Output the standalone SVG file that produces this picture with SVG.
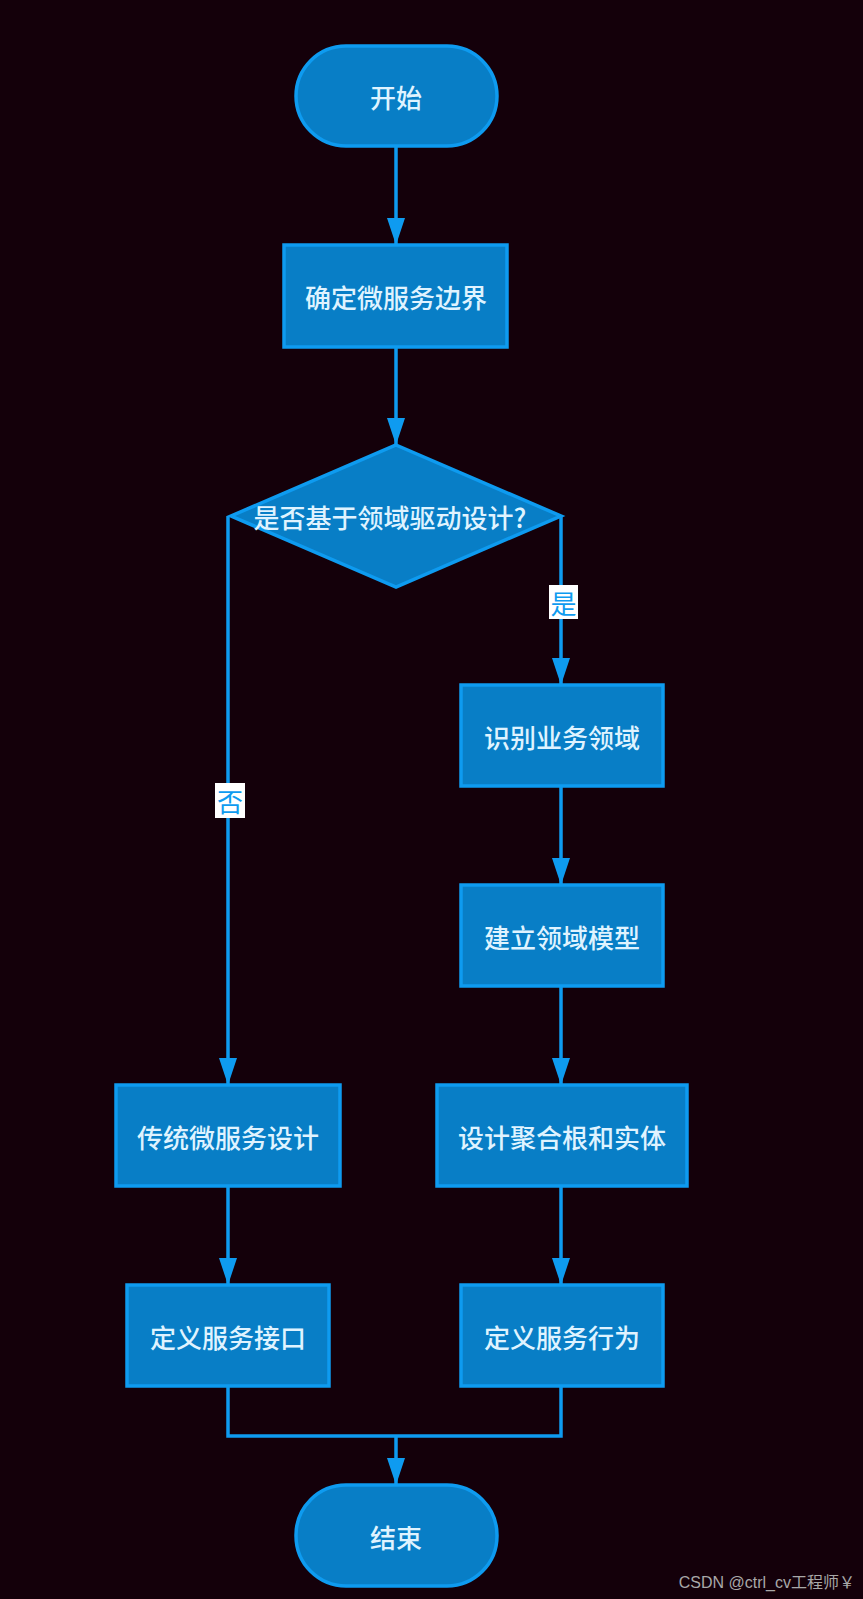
<svg xmlns="http://www.w3.org/2000/svg" width="863" height="1599" viewBox="0 0 863 1599">
<defs>
<style>
.n{fill:#087ec6;stroke:#0e9bf0;stroke-width:3.5}
.t{font-family:"Noto Sans CJK SC","Liberation Sans",sans-serif;font-size:26px;font-weight:500;fill:#dff3ff;text-anchor:middle;dominant-baseline:central}
.e{fill:none;stroke:#0e9bf0;stroke-width:3.5}
.lb{fill:#ffffff}
.lt{font-family:"Noto Sans CJK SC","Liberation Sans",sans-serif;font-size:26px;fill:#0e9bf0;text-anchor:middle;dominant-baseline:central}
</style>
<marker id="a" viewBox="0 0 27 18" refX="27" refY="9" markerWidth="27" markerHeight="18" markerUnits="userSpaceOnUse" orient="auto">
<path d="M0,0 L27,9 L0,18 Z" fill="#0e9bf0"/>
</marker>
</defs>
<rect width="863" height="1599" fill="#14000a"/>
<g id="edges">
<path class="e" d="M396,146 V245" marker-end="url(#a)"/>
<path class="e" d="M396,347 V445" marker-end="url(#a)"/>
<path class="e" d="M561,516 V685" marker-end="url(#a)"/>
<path class="e" d="M228,516 V1085" marker-end="url(#a)"/>
<path class="e" d="M561,786 V885" marker-end="url(#a)"/>
<path class="e" d="M561,986 V1085" marker-end="url(#a)"/>
<path class="e" d="M561,1186 V1285" marker-end="url(#a)"/>
<path class="e" d="M228,1186 V1285" marker-end="url(#a)"/>
<path class="e" d="M228,1386 V1436 H561 V1386"/>
<path class="e" d="M396,1436 V1485" marker-end="url(#a)"/>
<g id="label-yes"><rect class="lb" x="549" y="585" width="29" height="34"/><text class="lt" x="563.5" y="602">是</text></g>
<g id="label-no"><rect class="lb" x="215" y="783" width="30" height="35"/><text class="lt" x="230" y="800">否</text></g>
</g>
<g id="start"><rect class="n" x="296" y="46" width="201" height="100" rx="50" ry="50"/><text class="t" x="396" y="96">开始</text></g>
<g id="n1"><rect class="n" x="284" y="245" width="223" height="102"/><text class="t" x="396" y="296">确定微服务边界</text></g>
<g id="d1"><path class="n" d="M396,445 L561,516 L396,587 L231,516 Z"/><text class="t" x="390" y="516">是否基于领域驱动设计?</text></g>
<g id="n2"><rect class="n" x="461" y="685" width="202" height="101"/><text class="t" x="562" y="736">识别业务领域</text></g>
<g id="n3"><rect class="n" x="461" y="885" width="202" height="101"/><text class="t" x="562" y="936">建立领域模型</text></g>
<g id="n4"><rect class="n" x="437" y="1085" width="250" height="101"/><text class="t" x="562" y="1136">设计聚合根和实体</text></g>
<g id="n5"><rect class="n" x="461" y="1285" width="202" height="101"/><text class="t" x="562" y="1336">定义服务行为</text></g>
<g id="n6"><rect class="n" x="116" y="1085" width="224" height="101"/><text class="t" x="228" y="1136">传统微服务设计</text></g>
<g id="n7"><rect class="n" x="127" y="1285" width="202" height="101"/><text class="t" x="228" y="1336">定义服务接口</text></g>
<g id="end"><rect class="n" x="296" y="1485" width="201" height="101" rx="50" ry="50"/><text class="t" x="396" y="1536">结束</text></g>
<text x="855" y="1588" font-family="'Liberation Sans','Noto Sans CJK SC',sans-serif" font-size="16" fill="#a8a8a8" text-anchor="end">CSDN @ctrl_cv工程师￥</text>
</svg>
